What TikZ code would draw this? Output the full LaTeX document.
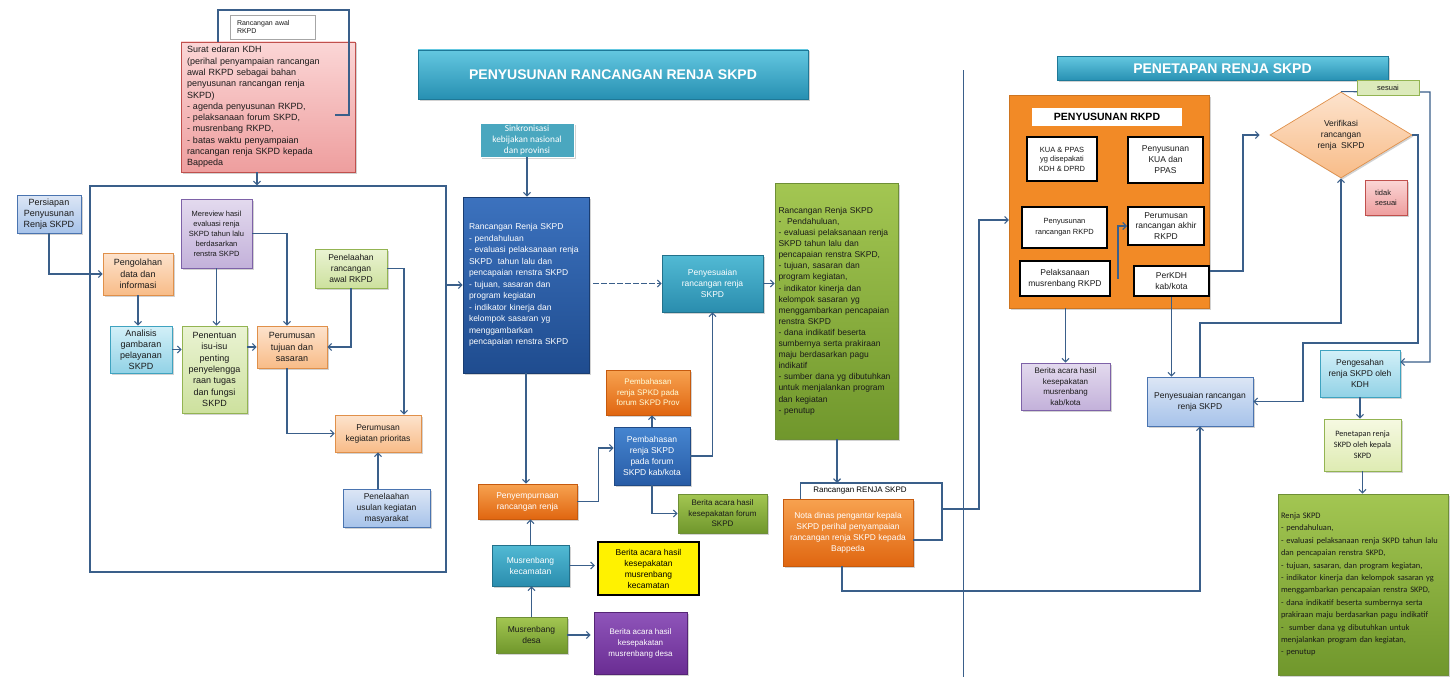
\documentclass[tikz,border=0pt]{standalone}
\usepackage{fontspec}
\setmainfont{Liberation Sans}
\newfontfamily\calib{Carlito}
\usetikzlibrary{arrows.meta,shapes.geometric,shadows}
\newcommand\fsz[2]{\fontsize{#1}{#2}\selectfont}
\definecolor{conn}{HTML}{3A5F8A}
\definecolor{lbT}{HTML}{DCE6F5}\definecolor{lbB}{HTML}{A7C3EA}\definecolor{lbD}{HTML}{4A74B0}
\definecolor{peT}{HTML}{FDE3CD}\definecolor{peB}{HTML}{F8BC88}\definecolor{peD}{HTML}{E0904A}
\definecolor{cyT}{HTML}{D3F0F8}\definecolor{cyB}{HTML}{92D2E6}\definecolor{cyD}{HTML}{3FA3C0}
\definecolor{laT}{HTML}{E3DAEE}\definecolor{laB}{HTML}{C3B1DA}\definecolor{laD}{HTML}{7E62A8}
\definecolor{lgT}{HTML}{EAF3D3}\definecolor{lgB}{HTML}{CDE19E}\definecolor{lgD}{HTML}{93B452}
\definecolor{piT}{HTML}{FBD6D6}\definecolor{piB}{HTML}{EE9E9E}\definecolor{piD}{HTML}{C0504D}
\definecolor{tbT}{HTML}{63C7E0}\definecolor{tbB}{HTML}{2790B2}\definecolor{tbD}{HTML}{1E7897}
\definecolor{dbT}{HTML}{3C72BE}\definecolor{dbB}{HTML}{1F4C8F}
\definecolor{tqT}{HTML}{52BAD4}\definecolor{tqB}{HTML}{2A8DAE}
\definecolor{grT}{HTML}{A3C652}\definecolor{grB}{HTML}{70972C}\definecolor{grD}{HTML}{6E8F36}
\definecolor{orT}{HTML}{F7A250}\definecolor{orB}{HTML}{E06610}\definecolor{orD}{HTML}{C65A0E}
\definecolor{bmT}{HTML}{4585D0}\definecolor{bmB}{HTML}{285CA6}
\definecolor{puT}{HTML}{8F55BA}\definecolor{puB}{HTML}{6A2D93}
\definecolor{rkO}{HTML}{F28A26}
\definecolor{ygT}{HTML}{F6F9E2}\definecolor{ygB}{HTML}{DEEBB2}
\definecolor{txt}{HTML}{1A1A1A}
\begin{document}
\begin{tikzpicture}[x=1pt,y=-1pt,
  line/.style={draw=conn,line width=1.1pt},
  arr/.style={line,-{Straight Barb[length=3.5pt,width=7pt]}},
  shd/.style={drop shadow={opacity=0.35,shadow xshift=1.5pt,shadow yshift=-1.5pt}},
  box/.style={draw,line width=0.7pt,align=center,inner sep=1pt,text=txt,font=\fsz{8.5}{11}},
  sz/.style 2 args={minimum width=#1pt,minimum height=#2pt},
  fLB/.style={top color=lbT,bottom color=lbB,draw=lbD},
  fPE/.style={top color=peT,bottom color=peB,draw=peD},
  fCY/.style={top color=cyT,bottom color=cyB,draw=cyD},
  fLA/.style={top color=laT,bottom color=laB,draw=laD},
  fLG/.style={top color=lgT,bottom color=lgB,draw=lgD},
  fPI/.style={top color=piT,bottom color=piB,draw=piD},
  fDB/.style={top color=dbT,bottom color=dbB,draw=dbB!80!black,text=white},
  fTQ/.style={top color=tqT,bottom color=tqB,draw=tqB!80!black,text=white},
  fGR/.style={top color=grT,bottom color=grB,draw=grD},
  fOR/.style={top color=orT,bottom color=orB,draw=orD,text=white},
  fBM/.style={top color=bmT,bottom color=bmB,draw=bmB!80!black,text=white},
  fPU/.style={top color=puT,bottom color=puB,draw=puB!80!black,text=white},
  fYG/.style={top color=ygT,bottom color=ygB,draw=lgD},
  wbox/.style={box,fill=white,draw=black,line width=2pt},
  banner/.style={shd,top color=tbT,bottom color=tbB,draw=tbD,line width=0.6pt,text=white,font=\bfseries\fsz{14}{16}}
]
\fill[white] (0,0) rectangle (1455,677);
\useasboundingbox (0,0) rectangle (1455,677);

% separator
\draw[line,line width=0.9pt] (963,70) -- (963,677);

% ---------- left part ----------
\node[box,fill=white,draw=gray!70,sz={85}{24},align=left,text width=71pt,inner xsep=7pt,font=\fsz{7}{8.5}] (rawal) at (272.5,27) {Rancangan awal\\RKPD};
\node[box,shd,fPI,sz={174}{130},align=left,text width=162pt,inner xsep=6pt,font=\fsz{9}{11.3}] (surat) at (268,107) {Surat edaran KDH\\(perihal penyampaian rancangan\\awal RKPD sebagai bahan\\penyusunan rancangan renja\\SKPD)\\- agenda penyusunan RKPD,\\- pelaksanaan forum SKPD,\\- musrenbang RKPD,\\- batas waktu penyampaian\\rancangan renja SKPD kepada\\Bappeda};
\node[draw=conn,line width=1.2pt,sz={356}{386},inner sep=0] (frame) at (268,379) {};

\node[box,shd,fLB,sz={64}{38},font=\fsz{9}{11.3}] (persiapan) at (49,214) {Persiapan\\Penyusunan\\Renja SKPD};
\node[box,shd,fPE,sz={70}{42},font=\fsz{9}{11.3}] (pengolahan) at (138,274) {Pengolahan\\data dan\\informasi};
\node[box,shd,fCY,sz={62}{47},font=\fsz{9}{11}] (analisis) at (141,349.5) {Analisis\\gambaran\\pelayanan\\SKPD};
\node[box,shd,fLA,sz={71}{69},font=\fsz{7.5}{10}] (mereview) at (216.5,233.5) {Mereview hasil\\evaluasi renja\\SKPD tahun lalu\\berdasarkan\\renstra SKPD};
\node[box,shd,fLG,sz={65}{87},font=\fsz{9}{11.3}] (penentuan) at (214.5,369.5) {Penentuan\\isu-isu\\penting\\penyelengga\\raan tugas\\dan fungsi\\SKPD};
\node[box,shd,fPE,sz={70}{42},font=\fsz{9}{11.3}] (tujuan) at (292,347) {Perumusan\\tujuan dan\\sasaran};
\node[box,shd,fLG,sz={72}{39}] (telaah) at (351,268.5) {Penelaahan\\rancangan\\awal RKPD};
\node[box,shd,fPE,sz={86}{37}] (kegiatan) at (378,433.5) {Perumusan\\kegiatan prioritas};
\node[box,shd,fLB,sz={87}{38}] (usulan) at (386.5,508) {Penelaahan\\usulan kegiatan\\masyarakat};

% ---------- middle part ----------
\node[banner,sz={390}{49}] (title1) at (613,74.5) {PENYUSUNAN RANCANGAN RENJA SKPD};
\node[box,shd,fill=tqT!90!black,draw=white,text=white,sz={94}{34},font=\calib\fsz{9.3}{10.8}] (sinkron) at (527,140) {Sinkronisasi\\kebijakan nasional\\dan provinsi};
\node[box,shd,fDB,sz={126}{176},align=left,text width=114pt,inner xsep=6pt,font=\fsz{8.5}{11.5}] (rrenja) at (526,285) {Rancangan Renja SKPD\\- pendahuluan\\- evaluasi pelaksanaan renja\\SKPD\ \ tahun lalu dan\\pencapaian renstra SKPD\\- tujuan, sasaran dan\\program kegiatan\\- indikator kinerja dan\\kelompok sasaran yg\\menggambarkan\\pencapaian renstra SKPD};
\node[box,shd,fTQ,sz={101}{57}] (penyes1) at (712.5,283.5) {Penyesuaian\\rancangan renja\\SKPD};
\node[box,shd,fGR,sz={123}{256},align=left,text width=116pt,inner xsep=3.5pt,font=\fsz{8.5}{11.1}] (green1) at (836.5,311) {Rancangan Renja SKPD\\-\ \ Pendahuluan,\\- evaluasi pelaksanaan renja\\SKPD tahun lalu dan\\pencapaian renstra SKPD,\\- tujuan, sasaran dan\\program kegiatan,\\- indikator kinerja dan\\kelompok sasaran yg\\menggambarkan pencapaian\\renstra SKPD\\- dana indikatif beserta\\sumbernya serta prakiraan\\maju berdasarkan pagu\\indikatif\\- sumber dana yg dibutuhkan\\untuk menjalankan program\\dan kegiatan\\- penutup};

\node[box,shd,fOR,sz={99}{35}] (penyemp) at (527.5,501.5) {Penyempurnaan\\rancangan renja};
\node[box,shd,fOR,text=yellow!15,sz={84}{45},font=\fsz{8}{10.5}] (pembprov) at (648,392.5) {Pembahasan\\renja SPKD pada\\forum SKPD Prov};
\node[box,shd,fBM,sz={76}{58}] (pembkab) at (652,456) {Pembahasan\\renja SKPD\\pada forum\\SKPD kab/kota};
\node[box,shd,fGR,sz={89}{39},font=\fsz{8}{10.5}] (bforum) at (722.5,513.5) {Berita acara hasil\\kesepakatan forum\\SKPD};
\node[box,shd,fTQ,sz={77}{41}] (kec) at (530.5,565.5) {Musrenbang\\kecamatan};
\node[box,fill=yellow,draw=black,line width=2.2pt,sz={101}{53},text=black] (bkec) at (648.5,568.5) {Berita acara hasil\\kesepakatan\\musrenbang\\kecamatan};
\node[box,shd,fGR,sz={71}{36}] (desa) at (531.5,635) {Musrenbang\\desa};
\node[box,shd,fPU,sz={93}{62},font=\fsz{8}{11}] (bdesa) at (640.5,643) {Berita acara hasil\\kesepakatan\\musrenbang desa};
\node[box,shd,fOR,sz={130}{67},font=\fsz{8.4}{11}] (nota) at (848,532.5) {Nota dinas pengantar kepala\\SKPD perihal penyampaian\\rancangan renja SKPD kepada\\Bappeda};
\node[font=\fsz{8}{10},inner sep=0,text=black] (rlabel) at (860,491) {Rancangan RENJA SKPD};

% ---------- right part ----------
\node[banner,sz={331}{24}] (title2) at (1222.5,68.5) {PENETAPAN RENJA SKPD};
\node[shd,fill=rkO,draw=rkO!85!black,sz={200}{213},inner sep=0] (rkpd) at (1109,201.5) {};
\node[fill=white,sz={150}{18},inner sep=0,font=\bfseries\fsz{10.5}{12},text=black] (rkpdlab) at (1107,117) {PENYUSUNAN RKPD};
\node[wbox,sz={70}{44},font=\fsz{7.5}{9.5}] (kua) at (1062,159) {KUA \& PPAS\\yg disepakati\\KDH \& DPRD};
\node[wbox,sz={75}{46}] (penkua) at (1165.5,160) {Penyusunan\\KUA dan\\PPAS};
\node[wbox,sz={85}{41},font=\fsz{7.5}{11}] (penranc) at (1064.5,227.5) {Penyusunan\\rancangan RKPD};
\node[wbox,sz={76}{38},font=\fsz{8.5}{10.5}] (perakhir) at (1166,226) {Perumusan\\rancangan akhir\\RKPD};
\node[wbox,sz={90}{35}] (pelmusr) at (1065,278.5) {Pelaksanaan\\musrenbang RKPD};
\node[wbox,sz={75}{30}] (perkdh) at (1171.5,281) {PerKDH\\kab/kota};
\node[box,shd,fLA,sz={89}{47},font=\fsz{8}{10.5}] (bkab) at (1065.5,386.5) {Berita acara hasil\\kesepakatan\\musrenbang\\kab/kota};
\node[box,shd,fLB,sz={106}{49}] (penyes2) at (1200,401.5) {Penyesuaian rancangan\\renja SKPD};
\node[diamond,shd,top color=peT,bottom color=peB,draw=peD,line width=0.7pt,minimum width=142pt,minimum height=86pt,inner sep=0,aspect=1.65,align=center,text=txt,font=\fsz{8.5}{11}] (verif) at (1341,135) {Verifikasi\\rancangan\\renja\ \ SKPD};
\node[box,shd,fCY,sz={80}{47}] (sah) at (1360,373.5) {Pengesahan\\renja SKPD oleh\\KDH};
\node[box,shd,fYG,sz={77}{52},font=\calib\fsz{8.2}{11}] (tetap) at (1362.5,445) {Penetapan renja\\SKPD oleh kepala\\SKPD};
\node[box,shd,fGR,sz={170}{181},align=left,text width=164pt,inner xsep=3pt,font=\calib\fsz{8.4}{12.4}] (renja) at (1363,584.5) {Renja SKPD\\- pendahuluan,\\- evaluasi pelaksanaan renja SKPD tahun lalu\\dan pencapaian renstra SKPD,\\- tujuan, sasaran, dan program kegiatan,\\- indikator kinerja dan kelompok sasaran yg\\menggambarkan pencapaian renstra SKPD,\\- dana indikatif beserta sumbernya serta\\prakiraan maju berdasarkan pagu indikatif\\-\ \ sumber dana yg dibutuhkan untuk\\menjalankan program dan kegiatan,\\- penutup};

% ---------- connectors: left ----------
\draw[line] ([xshift=-20pt]surat.east |- 0,115) -- (349,115) -- (349,10) -- (218,10) -- (218,10 |- surat.north);
\draw[arr] ([xshift=-11pt]surat.south) -- ([xshift=-11pt]surat.south |- frame.north);
\draw[arr] (frame.east |- rrenja.west) -- (rrenja.west);
\draw[arr] (persiapan.south) |- (pengolahan.west);
\draw[arr] (pengolahan.south) -- (pengolahan.south |- analisis.north);
\draw[arr] (analisis.east) -- (analisis.east -| penentuan.west);
\draw[arr] (mereview.south) -- (mereview.south |- penentuan.north);
\draw[arr] (mereview.east) -| ([xshift=-5pt]tujuan.north);
\draw[arr] (penentuan.east |- tujuan.west) -- (tujuan.west);
\draw[arr] ([xshift=-5pt]tujuan.south) |- (kegiatan.west);
\draw[arr] (telaah.south) |- (tujuan.east);
\draw[arr] (telaah.east) -| ([xshift=26pt]kegiatan.north);
\draw[arr] (kegiatan.south |- usulan.north) -- (kegiatan.south);

% ---------- connectors: middle ----------
\draw[arr] (sinkron.south) -- (sinkron.south |- rrenja.north);
\draw[arr,dash pattern=on 6pt off 2pt] ([xshift=4pt]rrenja.east |- penyes1.west) -- (penyes1.west);
\draw[arr] (penyes1.east) -- (penyes1.east -| green1.west);
\draw[arr] (rrenja.south) -- (rrenja.south |- penyemp.north);
\draw[arr] (penyemp.east) -- ++(21,0) |- (pembkab.west |- 0,448);
\draw[arr] (pembkab.north) -- (pembkab.north |- pembprov.south);
\draw[arr] (pembkab.east) -| (penyes1.south);
\draw[arr] (pembkab.south) |- (bforum.west);
\draw[arr] (kec.north) -- (kec.north |- penyemp.south);
\draw[arr,shorten >=2pt] (kec.east) -- (kec.east -| bkec.west);
\draw[arr] (desa.north) -- (desa.north |- kec.south);
\draw[arr,shorten >=3pt] (desa.east) -- (desa.east -| bdesa.west);
\coordinate (brtop) at (837,483);
\coordinate (brR) at (942,483);
\coordinate (brmid) at (942,509);
\draw[arr] (green1.south -| brtop) -- (brtop);
\draw[line] ([xshift=18pt]nota.north west) -- ([xshift=18pt]nota.north west |- brtop) -- (brR) -- (942,540) -- ([yshift=-7.5pt]nota.east);
\draw[arr] (brmid) -- (979,509) -- (979,220) -- (rkpd.west |- 0,220);
\draw[arr] ([xshift=-6pt]nota.south) |- (penyes2.south |- 0,591) -- (penyes2.south);

% ---------- connectors: right ----------
\draw[arr] (bkab.north |- rkpd.south) -- (bkab.north);
\draw[arr] ([xshift=7pt]pelmusr.east) -- ([xshift=7pt]pelmusr.east |- perakhir.west) -- (perakhir.west);
\draw[arr] ([yshift=10pt]perkdh.east) -| (1243,135) -- ([xshift=-10pt]verif.west);
\draw[arr] (perkdh.south) -- (perkdh.south |- penyes2.north);
\draw[arr] (penyes2.north) -- (penyes2.north |- 0,323) -| (verif.south);
\draw[arr] (verif.east) -- (1418,135) -- (1418,343) -- (1303,343) |- (penyes2.east);
\draw[arr] (verif.north) -- (1430,92) -- (1430,362) -- (sah.east |- 0,362);
\draw[arr] (sah.south) -- (sah.south |- tetap.north);
\draw[arr] (tetap.south) -- (tetap.south |- renja.north);

\node[box,fill=lgB!70,draw=lgD,sz={62}{15},inner sep=0,font=\fsz{7.5}{9}] (sesuai) at (1388,87.5) {sesuai};
\node[box,shd,fPI,sz={42}{35},align=left,font=\fsz{7.5}{10}] (tidak) at (1386,197.5) {tidak\\sesuai};
\end{tikzpicture}
\end{document}
